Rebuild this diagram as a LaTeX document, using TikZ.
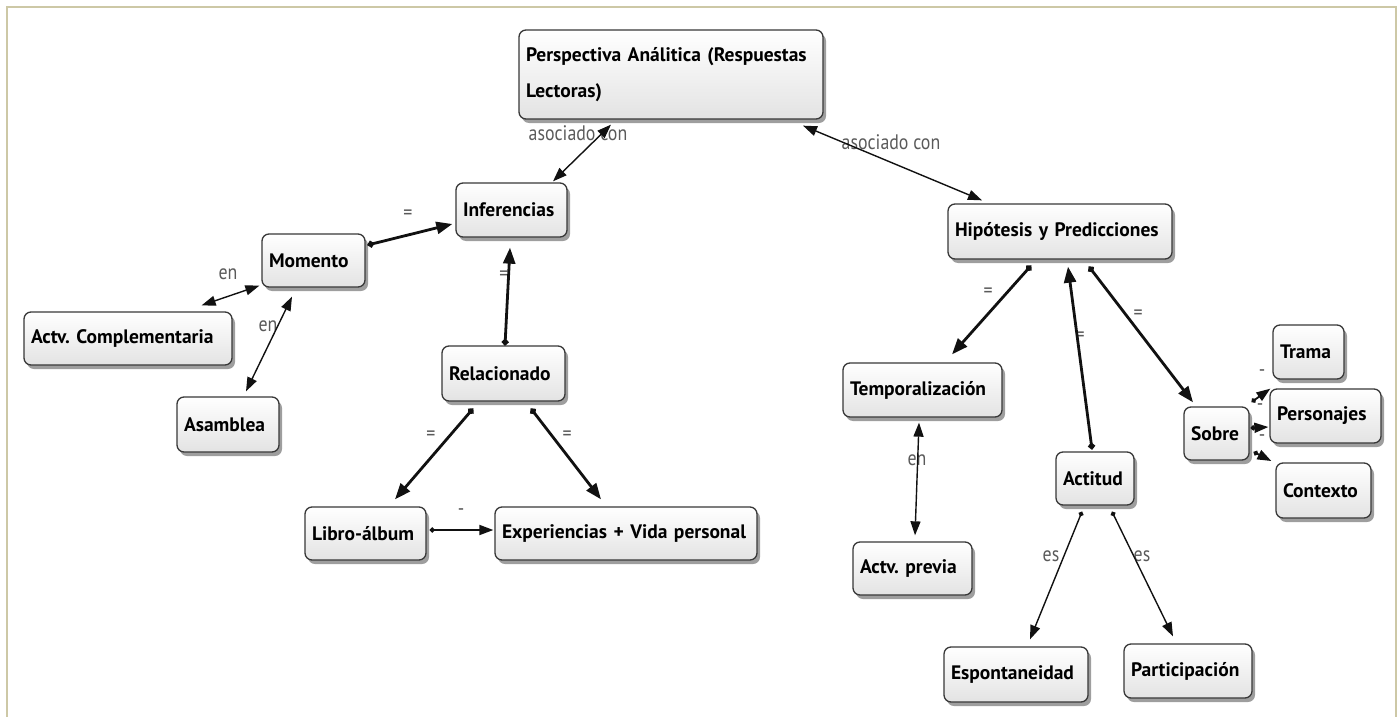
\documentclass[tikz,border=0pt]{standalone}
\usepackage{fontspec}
\setmainfont{PT Sans}
\newfontfamily\cmlabelfam{PT Sans}[FakeStretch=0.85]
\usetikzlibrary{arrows.meta,shadows,calc}
\newcommand\cmnodefont{\fontsize{19.5}{36}\selectfont\bfseries}
\newcommand\cmlabelfont{\cmlabelfam\fontsize{21}{24}\selectfont}
\definecolor{framecol}{HTML}{CDC8A6}
\definecolor{edgecol}{HTML}{111111}
\definecolor{labelcol}{HTML}{5A5A5A}
\tikzset{
  cnode/.style={draw=black!78, line width=1.3pt, rounded corners=7pt,
    top color=white, bottom color=black!11,
    drop shadow={shadow xshift=3pt, shadow yshift=-4pt, opacity=0.38, fill=black},
    inner xsep=7pt, inner ysep=0pt, align=left, font=\cmnodefont},
  lbl/.style={inner sep=0pt, text=labelcol, font=\cmlabelfont},
  thinlink/.style={draw=edgecol, line width=1.4pt},
  thicklink/.style={draw=edgecol, line width=2.8pt},
  bothtips/.style={{Triangle[length=14pt,width=10pt]}-{Triangle[length=14pt,width=10pt]}},
  dottip/.style={{Circle[length=5pt]}-{Triangle[length=14pt,width=10pt]}},
  bigdottip/.style={{Circle[length=6.5pt]}-{Triangle[length=16pt,width=12pt]}},
}
\begin{document}
\begin{tikzpicture}[x=1pt,y=-1pt]
\useasboundingbox (0,0) rectangle (1400,717);
% outer frame (open at the bottom)
\draw[framecol, line width=2pt] (6.5,717) -- (6.5,7) -- (1395.5,7) -- (1395.5,717);

% concepts
\node[cnode, text width=290pt, minimum height=89pt] (persp) at (671,74.5)
  {Perspectiva Análitica (Respuestas\\Lectoras)};
\node[cnode, text width=97pt, minimum height=54pt] (infer) at (511.5,210) {Inferencias};
\node[cnode, text width=89pt, minimum height=53pt] (momento) at (313.5,260.5) {Momento};
\node[cnode, text width=194pt, minimum height=53pt] (actvc) at (128,338.5) {\mbox{Actv.\ Complementaria}};
\node[cnode, text width=88pt, minimum height=55pt] (asamb) at (228,424.5) {Asamblea};
\node[cnode, text width=109pt, minimum height=55pt] (relac) at (503.5,373.5) {Relacionado};
\node[cnode, text width=107pt, minimum height=53pt] (libro) at (365.5,533.5) {Libro-álbum};
\node[cnode, text width=248pt, minimum height=53pt] (exper) at (626,533.5) {\mbox{Experiencias + Vida personal}};
\node[cnode, text width=210pt, minimum height=55pt] (hipo) at (1060,231.5) {\mbox{Hipótesis y Predicciones}};
\node[cnode, text width=145pt, minimum height=54pt] (temp) at (922.5,390) {Temporalización};
\node[cnode, text width=105pt, minimum height=53pt] (previa) at (912.5,568.5) {\mbox{Actv.\ previa}};
\node[cnode, text width=64pt, minimum height=53pt] (actitud) at (1095,478.5) {Actitud};
\node[cnode, text width=114pt, minimum height=54pt] (partic) at (1188,671) {Participación};
\node[cnode, text width=130pt, minimum height=55pt] (espont) at (1016,674.5) {Espontaneidad};
\node[cnode, text width=51pt, minimum height=53pt] (sobre) at (1216.5,433.5) {Sobre};
\node[cnode, text width=57pt, minimum height=54pt] (trama) at (1308.5,352) {Trama};
\node[cnode, text width=97pt, minimum height=54pt] (perso) at (1325.5,416) {Personajes};
\node[cnode, text width=81pt, minimum height=55pt] (contexto) at (1323.5,490.5) {Contexto};

% link labels
\node[lbl] (l1) at (578,133) {asociado con};
\node[lbl] (l2) at (891,142) {asociado con};
\node[lbl] (l3) at (408,215) {=};
\node[lbl] (l4) at (228,274) {en};
\node[lbl] (l5) at (268,326) {en};
\node[lbl] (l6) at (504,276) {=};
\node[lbl] (l7) at (431,436) {=};
\node[lbl] (l8) at (567,436) {=};
\node[lbl] (l9) at (461,512) {-};
\node[lbl] (l10) at (988,293) {=};
\node[lbl] (l11) at (1080,337) {=};
\node[lbl] (l12) at (1138,315) {=};
\node[lbl] (l13) at (917,460) {en};
\node[lbl] (l14) at (1051,556) {es};
\node[lbl] (l15) at (1142,556) {es};
\node[lbl] (l16) at (1262,373) {-};
\node[lbl] (l17) at (1260,407) {-};
\node[lbl] (l18) at (1262,438) {-};

% links
\draw[thinlink, bothtips] ($(infer.north)+(41.5,-1)$) -- ($(persp.south)+(-60,5)$);
\draw[thinlink, bothtips] ($(persp.south)+(132,6)$) -- ($(hipo.north)+(-78,-3)$);
\draw[thicklink, bigdottip] ($(momento.east)+(2,-15.5)$) -- ($(infer.west)+(-3,14)$);
\draw[thinlink, bothtips] ($(momento.south west)+(-2,-2)$) -- ($(actvc.north east)+(-31,-6)$);
\draw[thinlink, bothtips] ($(momento.south)+(-21.5,9)$) -- ($(asamb.north)+(18,-5)$);
\draw[thicklink, bigdottip] ($(relac.north)+(1.5,0)$) -- ($(infer.south)+(-1.5,10)$);
\draw[thicklink, bigdottip] ($(relac.south)+(-30.5,7)$) -- ($(libro.north)+(29.5,-7)$);
\draw[thicklink, bigdottip] ($(relac.south)+(27.5,7)$) -- ($(exper.north)+(-25,-7)$);
\draw[thinlink, line width=1.8pt, dottip] ($(libro.east)+(3,-3.5)$) -- ($(exper.west)+(-1,-3.5)$);
\draw[thicklink, bigdottip] ($(hipo.south)+(-29,6)$) -- ($(temp.north)+(29.5,-8)$);
\draw[thicklink, bigdottip] ($(actitud.north)+(-3,-2)$) -- ($(hipo.south)+(8,7)$);
\draw[thicklink, bigdottip] ($(hipo.south)+(29,7)$) -- ($(sobre.north)+(-23.5,-4)$);
\draw[thinlink, bothtips] ($(temp.south)+(-3.5,5)$) -- ($(previa.north)+(2.5,-6)$);
\draw[thinlink, dottip] ($(actitud.south)+(-13,6)$) -- ($(espont.north)+(14,-7)$);
\draw[thinlink, dottip] ($(actitud.south)+(17,6)$) -- ($(partic.north)+(-15,-7)$);
\draw[thinlink, line width=1.8pt, dottip] ($(sobre.east)+(2,-31.5)$) -- ($(trama.south west)+(-2,9)$);
\draw[thinlink, line width=1.8pt, dottip] ($(sobre.east)+(1,-5.5)$) -- ($(perso.west)+(-1,11)$);
\draw[thinlink, line width=1.8pt, dottip] ($(sobre.east)+(4,18.5)$) -- ($(contexto.west)+(-4,-29.5)$);
\end{tikzpicture}
\end{document}
